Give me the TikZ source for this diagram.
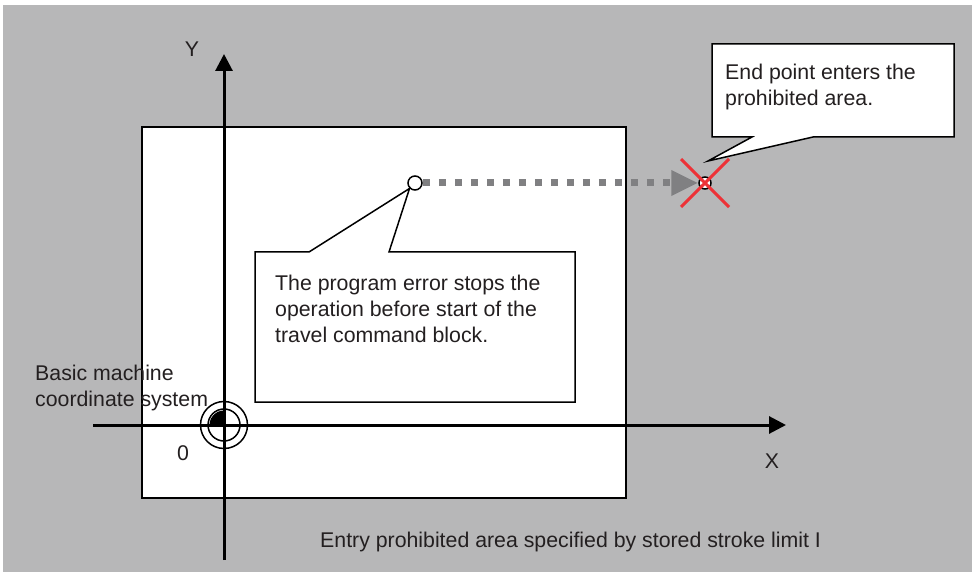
\documentclass[tikz,border=0pt]{standalone}
\usepackage{fontspec}
\setmainfont{Liberation Sans}
\usetikzlibrary{arrows.meta,positioning}

\definecolor{areagray}{RGB}{183,183,184}
\definecolor{trailgray}{RGB}{128,128,130}
\definecolor{crossred}{RGB}{237,50,55}
\definecolor{inkgray}{RGB}{35,31,32}

\begin{document}
\begin{tikzpicture}[
    x=1pt, y=-1pt,
    every node/.style={font=\fontsize{21.3}{26}\selectfont, text=inkgray, inner sep=0pt},
    axis/.style={line width=3pt, -{Triangle[length=17pt,width=17pt]}},
    callout/.style={draw=black, line width=1.5pt, fill=white, line join=miter},
    pointmark/.style={circle, draw=black, line width=1.5pt, fill=white, minimum size=14pt},
    trail/.style={draw=trailgray, line width=7pt, dash pattern=on 7pt off 9pt,
        -{Triangle[length=27pt,width=24pt]}}
]
\useasboundingbox (0,0) rectangle (972,577);

% Background and prohibited area
\fill[areagray] (3,5) rectangle (972,572);
\draw[fill=white, line width=2pt] (142,127) rectangle (626,498);

% Axes
\coordinate (origin) at (224,425);
\draw[axis] (93,425) -- (786,425);
\draw[axis] (224,560) -- (224,54);
\node (ylabel) at (192,49) {Y};
\node (xlabel) at (772,461) {X};
\node (zero) at (183,453) {0};

% Origin mark
\fill[black] (origin) -- ++(-14.5,0) arc[start angle=180, end angle=270, radius=14.5] -- cycle;
\draw[line width=1.5pt] (origin) circle[radius=16];
\draw[line width=1.5pt] (origin) circle[radius=23.5];
\node[anchor=base west, align=left] (basic) at (35,406) {Basic machine\\coordinate system};

% Callout for the stop
\node[pointmark] (start) at (415,183) {};
\draw[callout] (255,252) -- (309,252) -- (start.south west) -- (389,252)
    -- (575,252) -- (575,402) -- (255,402) -- cycle;
\node[anchor=base west, align=left] (msgstop) at (275,342)
    {The program error stops the\\operation before start of the\\travel command block.};

% Travel to the end point
\node[pointmark, minimum size=12pt] (endpt) at (705,183) {};
\draw[trail] (start.east) -- (endpt.west);
\draw[crossred, line width=3pt] (endpt) ++(-24,-24) -- ++(48,48);
\draw[crossred, line width=3pt] (endpt) ++(24,-24) -- ++(-48,48);

% Callout for the end point
\coordinate (endtip) at (708,161);
\draw[callout] (712,44) -- (954,44) -- (954,137) -- (813,137) -- (endtip)
    -- (752,137) -- (712,137) -- cycle;
\node[anchor=base west, align=left] (msgend) at (725,106)
    {End point enters the\\prohibited area.};

% Area note
\node[anchor=base west] (areanote) at (320,547)
    {Entry prohibited area specified by stored stroke limit I};

\end{tikzpicture}
\end{document}
